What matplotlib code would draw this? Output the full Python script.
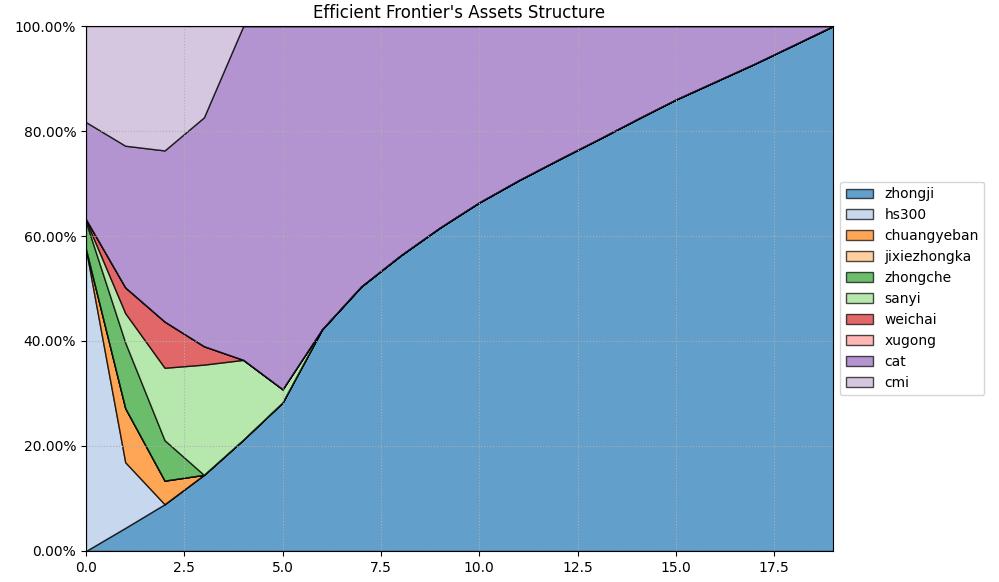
import matplotlib.pyplot as plt
import numpy as np
from matplotlib.ticker import PercentFormatter

# Portfolio index along the frontier
points = list(range(20))

assets = ['zhongji', 'hs300', 'chuangyeban', 'jixiezhongka', 'zhongche',
          'sanyi', 'weichai', 'xugong', 'cat', 'cmi']

# Weights in percent
zhongji = [0, 4.4, 8.9, 14.5, 21.2, 28.3, 42.2, 50.4, 56.3, 61.6,
           66.4, 70.6, 74.5, 78.3, 82.2, 86.0, 89.4, 92.8, 96.4, 100]
hs300 = [57.5, 12.5] + [0] * 18
chuangyeban = [0, 10.3, 4.5] + [0] * 17
jixiezhongka = [0] * 20
zhongche = [5.2, 12.5, 7.7] + [0] * 17
sanyi = [0.3, 5.6, 13.8, 21.0, 15.2, 2.5] + [0] * 14
weichai = [0.2, 4.9, 8.8, 3.5] + [0] * 16
xugong = [0] * 20
cat = [18.5, 27.0, 32.6, 43.6, 63.6, 69.2, 57.8, 49.6, 43.7, 38.4,
       33.6, 29.4, 25.5, 21.7, 17.8, 14.0, 10.6, 7.2, 3.6, 0]
cmi = [18.3, 22.8, 23.7, 17.4] + [0] * 16

weights = np.array([zhongji, hs300, chuangyeban, jixiezhongka, zhongche,
                    sanyi, weichai, xugong, cat, cmi]) / 100.0

colors = plt.cm.tab20(np.arange(10))

fig = plt.figure(figsize=(9.99, 5.82), dpi=100)
ax = fig.add_axes([0.086, 0.0533, 0.748, 0.902])

ax.stackplot(points, weights, labels=assets, colors=colors, alpha=0.7,
             edgecolor='black', linewidth=1)

ax.set_xlim(0, 19)
ax.set_ylim(0, 1)
ax.set_xticks(np.arange(0, 19, 2.5))
ax.yaxis.set_major_formatter(PercentFormatter(xmax=1, decimals=2))
ax.grid(True, linestyle=':', color='#b0b0b0')
ax.set_title("Efficient Frontier's Assets Structure")
ax.legend(loc='center left', bbox_to_anchor=(1.0, 0.5))

fig.savefig('out.png', dpi=100)
